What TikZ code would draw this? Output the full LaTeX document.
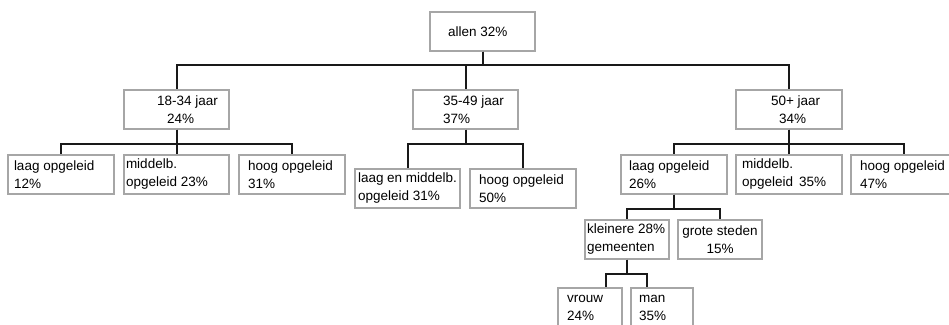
\documentclass[tikz,border=0pt]{standalone}
\usepackage{fontspec}
\setmainfont{Liberation Sans}
\tikzset{
  box/.style={draw=black!35, line width=1.3pt, fill=white, text width=#1,
    inner xsep=5pt, inner ysep=1pt, minimum height=39pt, align=flush left,
    font=\fontsize{13.5}{18}\selectfont},
  box/.default=96pt,
  link/.style={black!90, line width=2pt}
}

\begin{document}
\begin{tikzpicture}[x=1pt,y=-1pt]
  \useasboundingbox (0,0) rectangle (949,324);
  \clip (0,0) rectangle (949,324);
  % top
  \node[box=105pt, inner xsep=0pt] (allen) at (482.5,31.5) {\hspace*{18pt}allen 32\%};
  % leeftijd
  \node[box=105pt, inner xsep=0pt] (j1834) at (176.5,109.5) {\hspace*{33pt}18-34 jaar\\\hspace*{43pt}24\%};
  \node[box=105pt, inner xsep=0pt] (j3549) at (465.5,109.5) {\hspace*{30pt}35-49 jaar\\\hspace*{30pt}37\%};
  \node[box=106pt, inner xsep=0pt] (j50) at (789,109.5) {\hspace*{35pt}50+ jaar\\\hspace*{43pt}34\%};
  % opleiding
  \node[box, inner xsep=6pt, text width=94pt] (alaag) at (61,174.5) {laag opgeleid\\12\%};
  \node[box, inner xsep=2pt, text width=101pt] (amid) at (176.5,174.5) {middelb.\\opgeleid 23\%};
  \node[box, inner xsep=9pt, text width=88pt] (ahoog) at (292,174.5) {hoog opgeleid\\31\%};
  \node[box, inner xsep=3pt, text width=99pt] (blaag) at (407.5,188.5) {laag en middelb.\\opgeleid 31\%};
  \node[box, inner xsep=9pt, text width=88pt] (bhoog) at (523,188.5) {hoog opgeleid\\50\%};
  \node[box, inner xsep=8pt, text width=90pt] (claag) at (674,174.5) {laag opgeleid\\26\%};
  \node[box, inner xsep=6pt, text width=94pt] (cmid) at (789,174.5) {middelb.\\opgeleid\ \,35\%};
  \node[box, inner xsep=9pt, text width=88pt] (choog) at (904,174.5) {hoog opgeleid\\47\%};
  % woonplaats
  \node[box=80pt, inner xsep=2pt] (klein) at (627,239.5) {kleinere 28\%\\gemeenten};
  \node[box=80pt, inner xsep=2pt, align=flush center] (groot) at (720,239.5) {grote steden\\15\%};
  % geslacht
  \node[box=46pt, inner xsep=9pt] (vrouw) at (590,307.5) {vrouw\\24\%};
  \node[box=46pt, inner xsep=8pt] (man) at (662,307.5) {man\\35\%};

  \foreach \c in {j1834,j3549,j50}
    \draw[link] (allen.south) -- ++(0,13) -| (\c.north);
  \foreach \c in {alaag,amid,ahoog}
    \draw[link] (j1834.south) -- ++(0,14) -| (\c.north);
  \foreach \c in {blaag,bhoog}
    \draw[link] (j3549.south) -- ++(0,14) -| (\c.north);
  \foreach \c in {claag,cmid,choog}
    \draw[link] (j50.south) -- ++(0,14) -| (\c.north);
  \foreach \c in {klein,groot}
    \draw[link] (claag.south) -- ++(0,14) -| (\c.north);
  \draw[link] (klein.south) -- ++(0,14) -| ([xshift=16pt]vrouw.north);
  \draw[link] (klein.south) -- ++(0,14) -| ([xshift=-15pt]man.north);
\end{tikzpicture}
\end{document}
